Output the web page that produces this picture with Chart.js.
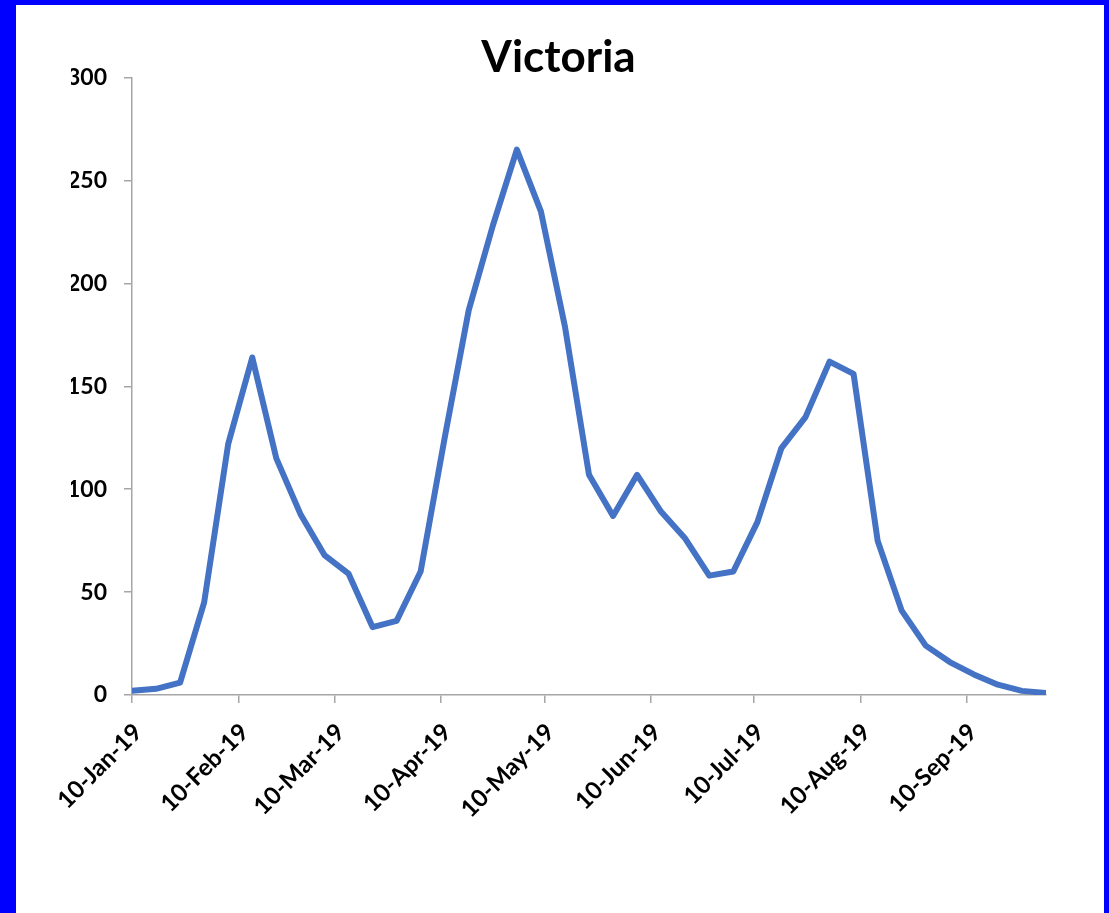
<!DOCTYPE html>
<html>
<head>
<meta charset="utf-8">
<title>Victoria</title>
<script src="https://cdn.jsdelivr.net/npm/chart.js@4.4.1/dist/chart.umd.min.js"></script>
<style>
  html, body { margin: 0; padding: 0; background: #0000ff; overflow: hidden; }
  #frame { position: absolute; left: 16px; top: 5px; width: 1088px; height: 908px; background: #fff; }
</style>
</head>
<body>
<div id="frame"><canvas id="grafica" width="1088" height="908"></canvas></div>
<script>
// Weekly readings, Victoria
const weekDates = [
  '2019-01-10', '2019-01-17', '2019-01-24', '2019-01-31',
  '2019-02-07', '2019-02-14', '2019-02-21', '2019-02-28',
  '2019-03-07', '2019-03-14', '2019-03-21', '2019-03-28',
  '2019-04-04', '2019-04-11', '2019-04-18', '2019-04-25',
  '2019-05-02', '2019-05-09', '2019-05-16', '2019-05-23', '2019-05-30',
  '2019-06-06', '2019-06-13', '2019-06-20', '2019-06-27',
  '2019-07-04', '2019-07-11', '2019-07-18', '2019-07-25',
  '2019-08-01', '2019-08-08', '2019-08-15', '2019-08-22', '2019-08-29',
  '2019-09-05', '2019-09-12', '2019-09-19', '2019-09-26',
  '2019-10-03'
];
const cases = [
  2, 3, 6, 45,
  122, 164, 115, 88,
  68, 59, 33, 36,
  60, 125, 187, 228,
  265, 235, 179, 107, 87,
  107, 89, 76, 58,
  60, 84, 120, 135,
  162, 156, 75, 41, 24,
  16, 10, 5, 2,
  1
];
const tickDates = [
  '2019-01-10', '2019-02-10', '2019-03-10', '2019-04-10', '2019-05-10',
  '2019-06-10', '2019-07-10', '2019-08-10', '2019-09-10'
];
const tickLabels = [
  '10-Jan-19', '10-Feb-19', '10-Mar-19', '10-Apr-19', '10-May-19',
  '10-Jun-19', '10-Jul-19', '10-Aug-19', '10-Sep-19'
];

// date string -> day number (no date adapter available)
const toDay = s => Date.parse(s + 'T00:00:00Z') / 86400000;

const puntos = weekDates.map((d, i) => ({ x: toDay(d), y: cases[i] }));
const axisGrey = '#a6a6a6';
const fontFam = 'Lato, "Open Sans", sans-serif';

new Chart(document.getElementById('grafica'), {
  type: 'line',
  data: {
    datasets: [{
      label: 'Victoria',
      data: puntos,
      borderColor: '#4472c4',
      borderWidth: 6,
      borderJoinStyle: 'round',
      borderCapStyle: 'round',
      pointRadius: 0,
      tension: 0,
      fill: false
    }]
  },
  options: {
    responsive: false,
    animation: false,
    devicePixelRatio: 1,
    // left/right padding balanced so the title centres like the original
    layout: { padding: { left: 55, right: 58, top: 0, bottom: 0 } },
    plugins: {
      legend: { display: false },
      tooltip: { enabled: false },
      title: {
        display: true,
        text: 'Victoria',
        color: '#000',
        font: { family: fontFam, size: 44, weight: 'bold', lineHeight: 0.9 },
        padding: { top: 33, bottom: 0 }
      }
    },
    scales: {
      x: {
        type: 'linear',
        min: toDay(weekDates[0]),
        max: toDay(weekDates[weekDates.length - 1]),
        afterBuildTicks: scale => {
          scale.ticks = tickDates.map(d => ({ value: toDay(d) }));
        },
        afterFit: scale => { scale.height = 218; },
        border: { display: true, color: axisGrey, width: 1.5 },
        grid: { display: true, drawOnChartArea: false, drawTicks: true, tickLength: 8, color: axisGrey, lineWidth: 1.5 },
        ticks: {
          autoSkip: false,
          minRotation: 45,
          maxRotation: 45,
          padding: 15,
          labelOffset: 6,
          color: '#000',
          font: { family: fontFam, size: 24, weight: 'bold' },
          callback: (value, index) => tickLabels[index]
        }
      },
      y: {
        min: 0,
        max: 300,
        afterFit: scale => { scale.width = 61; },
        border: { display: true, color: axisGrey, width: 1.5 },
        grid: { display: true, drawOnChartArea: false, drawTicks: true, tickLength: 8, color: axisGrey, lineWidth: 1.5 },
        ticks: {
          stepSize: 50,
          padding: 17,
          color: '#000',
          font: { family: fontFam, size: 23, weight: 'bold' }
        }
      }
    }
  }
});
</script>
</body>
</html>
